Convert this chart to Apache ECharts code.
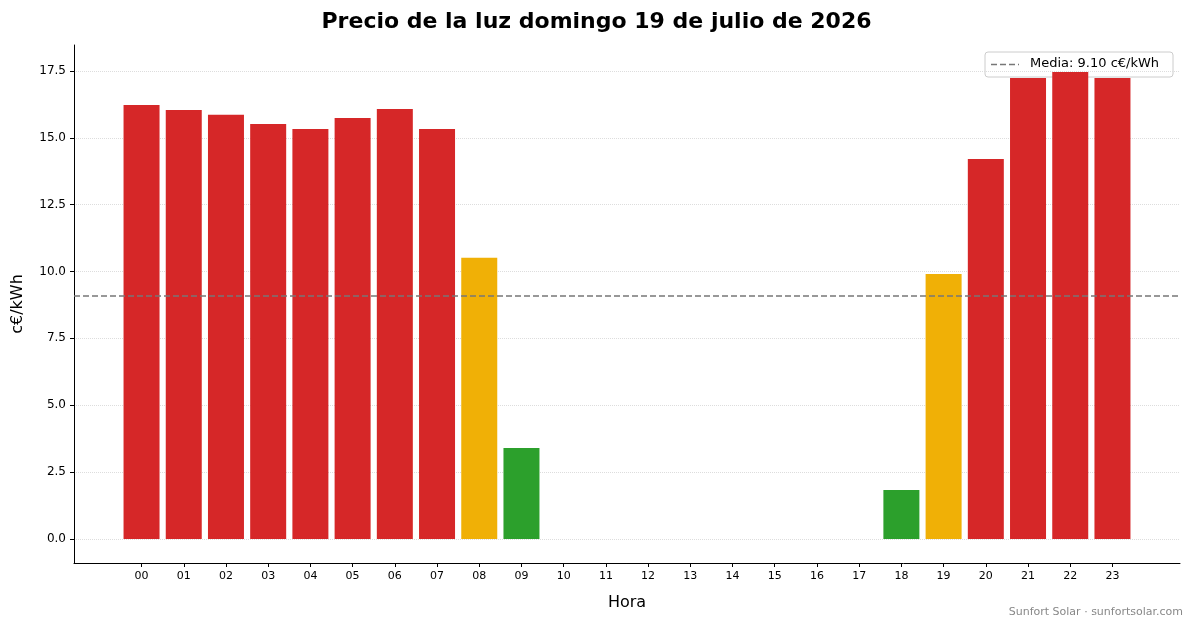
<!DOCTYPE html>
<html><head><meta charset="utf-8">
<script src="https://cdn.jsdelivr.net/npm/echarts@6/dist/echarts.min.js"></script>
<style>html,body{margin:0;padding:0;background:#fff}#c{width:1193px;height:628px}</style>
</head><body><div id="c"></div>
<script>
const hours = ['00','01','02','03','04','05','06','07','08','09','10','11','12','13','14','15','16','17','18','19','20','21','22','23'];
const prices = [16.23,16.04,15.86,15.52,15.33,15.74,16.08,15.33,10.51,3.40,0,0,0,0,0,0,0,0,1.83,9.91,14.21,17.24,17.46,17.24];
const levels = ['high','high','high','high','high','high','high','high','mid','low','low','low','low','low','low','low','low','low','low','mid','high','high','high','high'];
const levelColors = {high:'#d62728', mid:'#f0b006', low:'#2ca02c'};
const mean = 9.10;
const yTicks = [0,2.5,5,7.5,10,12.5,15,17.5];

const chart = echarts.init(document.getElementById('c'));
const font = 'DejaVu Sans';
chart.setOption({
  animation:false,
  textStyle:{fontFamily:font},
  title:{text:'Precio de la luz domingo 19 de julio de 2026',left:'center',top:6,
    textStyle:{fontSize:22,fontWeight:'bold',color:'#000',fontFamily:font}},
  grid:{left:74,right:13,top:45,bottom:65},
  xAxis:{type:'value',min:-1.6,max:24.6,
    name:'Hora',nameLocation:'middle',nameGap:32,nameTextStyle:{fontSize:16,color:'#000'},
    axisLine:{show:true,onZero:false,lineStyle:{color:'#000'}},
    axisTick:{show:true,customValues:hours.map((h,i)=>i),length:4,lineStyle:{color:'#000'}},
    axisLabel:{customValues:hours.map((h,i)=>i),formatter:v=>hours[Math.round(v)],fontSize:11,color:'#000',margin:8},
    splitLine:{show:false}},
  yAxis:{type:'value',min:-0.9,max:18.47,
    name:'c€/kWh',nameLocation:'middle',nameGap:48,nameTextStyle:{fontSize:16,color:'#000'},
    axisLine:{show:true,onZero:false,lineStyle:{color:'#000'}},
    axisTick:{show:true,customValues:yTicks,length:4,lineStyle:{color:'#000'}},
    axisLabel:{customValues:yTicks,formatter:v=>v.toFixed(1),fontSize:12,color:'#000'},
    splitLine:{show:false}},
  series:[{
    type:'line',z:0,data:[],
    markLine:{silent:true,symbol:'none',label:{show:false},z:0,
      data:yTicks.map(v=>({yAxis:v,lineStyle:{color:'#ddd',type:'dotted',width:1}}))}
  },{
    type:'bar',barWidth:36,z:2,
    data:prices.map((p,i)=>({value:[i,p],itemStyle:{color:levelColors[levels[i]]}})),
    markLine:{silent:true,symbol:'none',label:{show:false},
      data:[{yAxis:mean,lineStyle:{color:'#777',type:[6,3],width:1.5}}]}
  }],
  graphic:[
    {type:'rect',shape:{x:985,y:52,width:188,height:25,r:3},style:{fill:'#fff',stroke:'#ccc',lineWidth:1}},
    {type:'line',shape:{x1:991,y1:64.5,x2:1019,y2:64.5},style:{stroke:'#777',lineWidth:1.5,lineDash:[6,3]}},
    {type:'text',x:1030,y:57,style:{text:'Media: 9.10 c€/kWh',fontSize:13,fill:'#000',fontFamily:font}},
    {type:'text',right:10,top:607,style:{text:'Sunfort Solar · sunfortsolar.com',fontSize:11,fill:'#888',fontFamily:font}}
  ]
});
</script></body></html>
